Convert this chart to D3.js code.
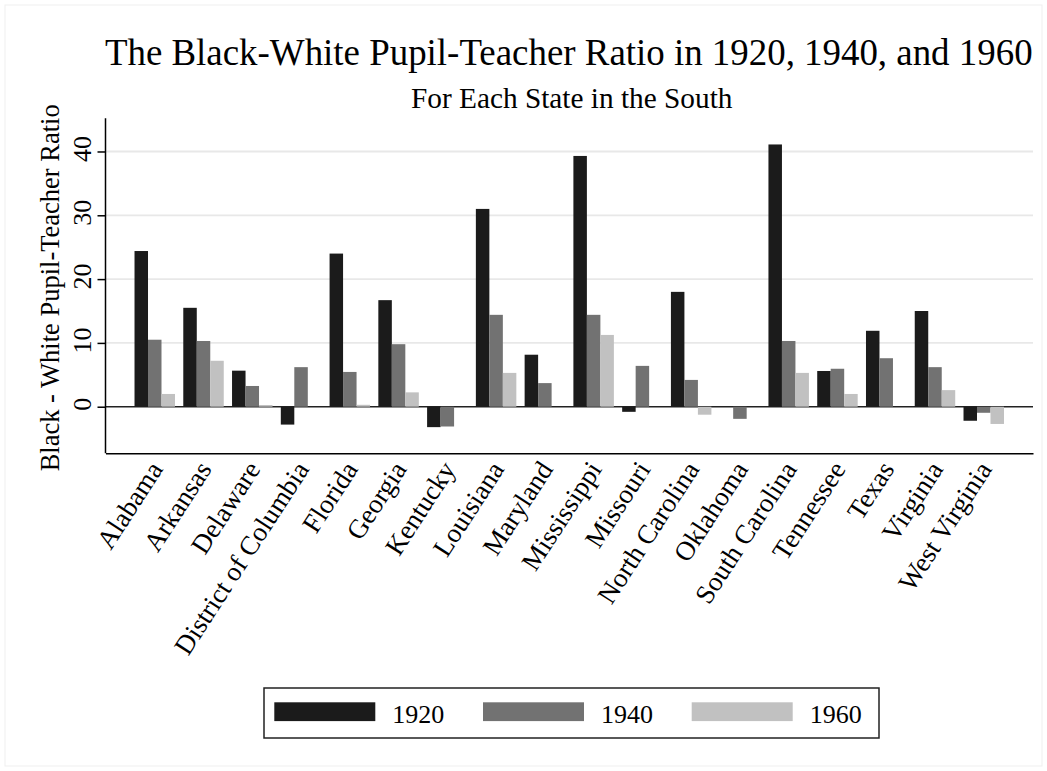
<!DOCTYPE html>
<html>
<head>
<meta charset="utf-8">
<script src="https://cdn.jsdelivr.net/npm/d3@7"></script>
<style>
  html, body { margin: 0; padding: 0; background: #fff; }
  svg { display: block; }
  text { font-family: "Liberation Serif", "Times New Roman", "DejaVu Serif", serif; fill: #000; }
</style>
</head>
<body>
<svg id="chart" width="1047" height="771"></svg>
<script>
const states = ["Alabama","Arkansas","Delaware","District of Columbia","Florida","Georgia","Kentucky","Louisiana","Maryland","Mississippi","Missouri","North Carolina","Oklahoma","South Carolina","Tennessee","Texas","Virginia","West Virginia"];
const years = ["1920","1940","1960"];
const v1920 = [24.4, 15.5, 5.65, -2.8, 24.0, 16.7, -3.2, 31.0, 8.15, 39.3, -0.8, 18.0, 0, 41.1, 5.6, 11.9, 15.0, -2.2];
const v1940 = [10.5, 10.3, 3.25, 6.2, 5.45, 9.8, -3.1, 14.4, 3.7, 14.4, 6.4, 4.2, -1.9, 10.3, 5.95, 7.6, 6.2, -0.95];
const v1960 = [2.0, 7.2, 0.27, 0, 0.3, 2.25, 0, 5.3, 0, 11.25, 0, -1.25, 0, 5.3, 2.0, 0, 2.6, -2.7];
const yTicks = [0, 10, 20, 30, 40];
const titleText = "The Black-White Pupil-Teacher Ratio in 1920, 1940, and 1960";
const subtitleText = "For Each State in the South";
const yLabelText = "Black - White Pupil-Teacher Ratio";

const colors = {"1920": "#1b1b1b", "1940": "#727272", "1960": "#c1c1c1"};
const seriesByYear = {"1920": v1920, "1940": v1940, "1960": v1960};

const svg = d3.select("#chart");
const pLeft = 105.5, pRight = 1033, pTop = 118.3, pBottom = 453.3;

// faint outer border
svg.append("rect").attr("x", 5).attr("y", 5).attr("width", 1037).attr("height", 761)
  .attr("fill", "none").attr("stroke", "#efefef").attr("stroke-width", 1);

const x = d3.scaleBand().domain(states).range([pLeft, pRight]).paddingInner(0.17).paddingOuter(0.595);
const xi = d3.scaleBand().domain(years).range([0, x.bandwidth()]).padding(0);
const y = d3.scaleLinear().domain([-7.3, 45.2]).range([pBottom, pTop]);

// gridlines
svg.append("g").selectAll("line").data(yTicks.filter(d => d !== 0)).join("line")
  .attr("x1", pLeft).attr("x2", pRight)
  .attr("y1", d => y(d)).attr("y2", d => y(d))
  .attr("stroke", "#e8e8e8").attr("stroke-width", 1.8);

// zero line
svg.append("line").attr("x1", pLeft).attr("x2", pRight)
  .attr("y1", y(0)).attr("y2", y(0))
  .attr("stroke", "#222").attr("stroke-width", 1.6);

// bars
const rows = [];
states.forEach((s, i) => years.forEach(yr => rows.push({state: s, year: yr, value: seriesByYear[yr][i]})));
svg.append("g").selectAll("rect").data(rows.filter(d => d.value !== 0)).join("rect")
  .attr("x", d => x(d.state) + xi(d.year))
  .attr("width", xi.bandwidth())
  .attr("y", d => Math.min(y(d.value), y(0)))
  .attr("height", d => Math.abs(y(d.value) - y(0)))
  .attr("fill", d => colors[d.year]);

// y axis
const yAxis = svg.append("g").attr("transform", `translate(${pLeft},0)`)
  .call(d3.axisLeft(y).tickValues(yTicks).tickSize(8).tickSizeOuter(0).tickFormat(d3.format("d")));
yAxis.select(".domain").attr("stroke", "#000").attr("stroke-width", 1.5)
  .attr("d", `M0,${pTop}V${pBottom}`);
yAxis.selectAll(".tick line").attr("stroke", "#000").attr("stroke-width", 1.5);
yAxis.selectAll(".tick text")
  .attr("x", 0).attr("dy", 0)
  .attr("transform", "translate(-14.5,-3) rotate(-90)")
  .attr("text-anchor", "middle")
  .style("font-family", "'Liberation Serif','Times New Roman',serif")
  .style("font-size", "26px").attr("fill", "#000");

// x axis
const xAxis = svg.append("g").attr("transform", `translate(0,${pBottom})`)
  .call(d3.axisBottom(x).tickSize(0).tickSizeOuter(0));
xAxis.select(".domain").attr("stroke", "#000").attr("stroke-width", 1.5);
xAxis.selectAll(".tick text")
  .attr("x", 0).attr("y", 0).attr("dy", 0)
  .attr("transform", "translate(9,16) rotate(-57)")
  .attr("text-anchor", "end")
  .style("font-family", "'Liberation Serif','Times New Roman',serif")
  .style("font-size", "27px").attr("fill", "#000");

// y label
svg.append("text")
  .attr("transform", `translate(59,${(pTop + pBottom) / 2 + 2}) rotate(-90)`)
  .attr("text-anchor", "middle")
  .style("font-size", "26.5px")
  .text(yLabelText);

// titles
svg.append("text").attr("x", (pLeft + pRight) / 2 - 0.5).attr("y", 65)
  .attr("text-anchor", "middle").style("font-size", "36.9px").text(titleText);
svg.append("text").attr("x", (pLeft + pRight) / 2 + 2.5).attr("y", 107.5)
  .attr("text-anchor", "middle").style("font-size", "29.3px").text(subtitleText);

// legend
const lg = svg.append("g");
lg.append("rect").attr("x", 264).attr("y", 688).attr("width", 615).attr("height", 50)
  .attr("fill", "#fff").attr("stroke", "#222").attr("stroke-width", 1.5);
const legX = d3.scalePoint().domain(years).range([274.3, 691.7]);
const items = lg.selectAll("g.item").data(years).join("g").attr("class", "item")
  .attr("transform", d => `translate(${legX(d)},0)`);
items.append("rect").attr("x", 0).attr("y", 702.3).attr("width", 101).attr("height", 18.8)
  .attr("fill", d => colors[d]);
items.append("text").attr("x", 118).attr("y", 723.3)
  .style("font-size", "26px").text(d => d);
</script>
</body>
</html>
